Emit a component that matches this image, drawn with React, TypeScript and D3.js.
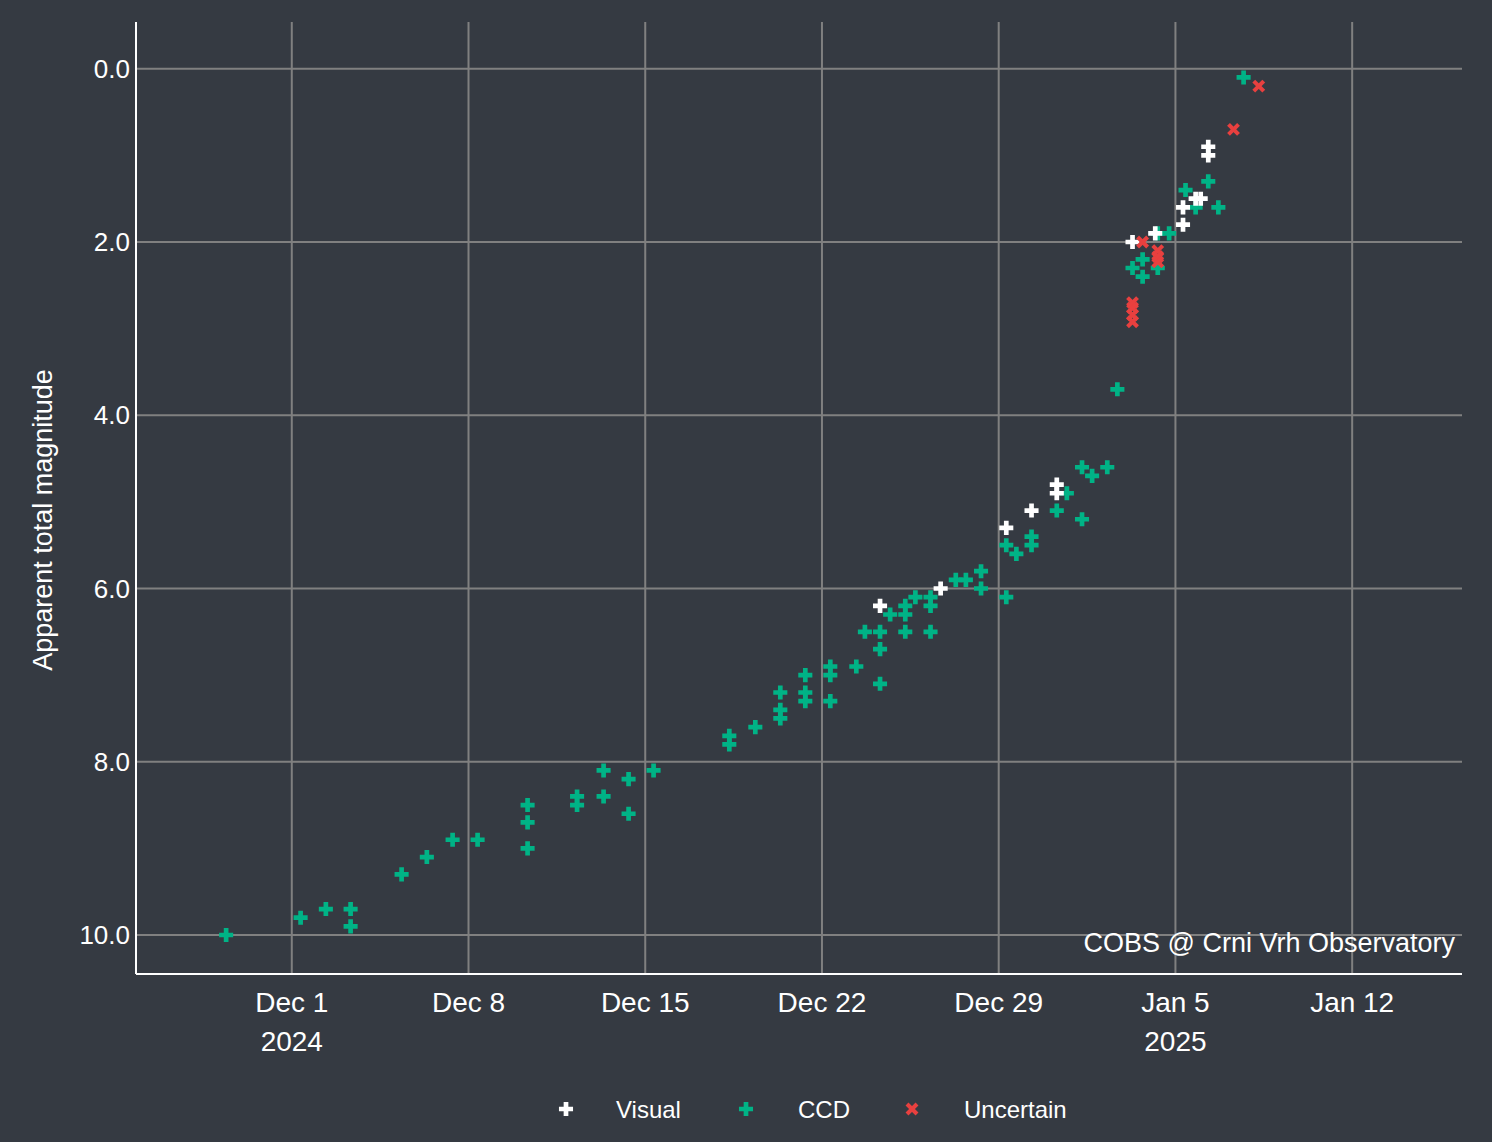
import React from 'react';
import * as d3 from 'd3';

// days after 2024-12-01, apparent magnitude
const ccd: [number, number][] = [
  [-2.6, 10.0], [0.35, 9.8], [1.35, 9.7], [2.33, 9.7], [2.33, 9.9], [4.35, 9.3], [5.35, 9.1],
  [6.37, 8.9], [7.36, 8.9], [9.34, 8.5], [9.34, 8.7], [9.34, 9.0], [11.3, 8.4], [11.3, 8.5],
  [12.35, 8.1], [12.35, 8.4], [13.34, 8.2], [13.34, 8.6], [14.33, 8.1], [17.33, 7.7], [17.33, 7.8],
  [18.36, 7.6], [19.35, 7.2], [19.35, 7.4], [19.35, 7.5], [20.34, 7.0], [20.34, 7.2], [20.34, 7.3],
  [21.33, 6.9], [21.33, 7.0], [21.33, 7.3], [22.36, 6.9], [22.7, 6.5], [23.3, 6.5], [23.3, 6.7],
  [23.3, 7.1], [23.7, 6.3], [24.3, 6.2], [24.3, 6.3], [24.3, 6.5], [24.7, 6.1], [25.3, 6.1],
  [25.3, 6.2], [25.3, 6.5], [26.3, 5.9], [26.7, 5.9], [27.3, 5.8], [27.3, 6.0], [28.3, 5.5],
  [28.3, 6.1], [28.7, 5.6], [29.3, 5.4], [29.3, 5.5], [30.3, 5.1], [30.7, 4.9], [31.3, 4.6],
  [31.3, 5.2], [31.7, 4.7], [32.3, 4.6], [32.7, 3.7], [33.3, 2.3], [33.7, 2.2], [33.7, 2.4],
  [34.3, 2.3], [34.3, 1.9], [34.75, 1.9], [35.4, 1.4], [35.8, 1.6], [36.3, 1.3], [36.7, 1.6],
  [37.7, 0.1],
];
const visual: [number, number][] = [
  [23.3, 6.2], [25.7, 6.0], [28.3, 5.3], [29.3, 5.1], [30.3, 4.8], [30.3, 4.9], [33.3, 2.0],
  [34.2, 1.9], [35.3, 1.6], [35.3, 1.8], [35.8, 1.5], [36.0, 1.5], [36.3, 0.9], [36.3, 1.0],
];
const uncertain: [number, number][] = [
  [33.7, 2.0], [34.3, 2.1], [34.3, 2.17], [34.3, 2.23], [33.3, 2.7], [33.3, 2.76], [33.3, 2.84],
  [33.3, 2.92], [37.3, 0.7], [38.3, 0.2],
];
const magTicks = [0, 2, 4, 6, 8, 10];

const W = 1492, H = 1142;
const left = 136, right = 1462, top = 22, bottom = 974;
const base = new Date(2024, 11, 1);
const day = (d: number) => new Date(base.getTime() + d * 86400000);
const font = 'Liberation Sans, Arial, sans-serif';

export default function App() {
  const x = d3.scaleTime().domain([day(-6.17), day(46.35)]).range([left, right]);
  const y = d3.scaleLinear().domain([-0.54, 10.45]).range([top, bottom]);
  const dateTicks = d3.range(0, 43, 7).map(day);
  const fmt = d3.timeFormat('%b %-d');
  const cross = d3.symbol(d3.symbolCross, 110)()!;
  const plot = (pts: [number, number][], path: string, color: string) =>
    pts.map(([d, m], i) => (
      <path key={i} d={path} fill={color} stroke="none"
        transform={`translate(${x(day(d))},${y(m)})`} />
    ));
  const xMark = (cx: number, cy: number, c: string) => (
    <g stroke={c} strokeWidth={4}>
      <line x1={cx - 5} y1={cy - 5} x2={cx + 5} y2={cy + 5} />
      <line x1={cx - 5} y1={cy + 5} x2={cx + 5} y2={cy - 5} />
    </g>
  );
  return (
    <svg width={W} height={H} style={{ position: 'absolute', left: 0, top: 0, fontFamily: font }}>
      <rect width={W} height={H} fill="#353a42" />
      {dateTicks.map((t, i) => (
        <line key={i} x1={x(t)} x2={x(t)} y1={top} y2={bottom} stroke="#808080" strokeWidth={2} />
      ))}
      {magTicks.map(m => (
        <line key={m} x1={left} x2={right} y1={y(m)} y2={y(m)} stroke="#808080" strokeWidth={2} />
      ))}
      <line x1={left} x2={left} y1={top} y2={bottom} stroke="#fff" strokeWidth={2} />
      <line x1={left} x2={right} y1={bottom} y2={bottom} stroke="#fff" strokeWidth={2} />
      {magTicks.map(m => (
        <text key={m} x={left - 6} y={y(m) + 9} textAnchor="end" fill="#fff" fontSize={26}>{m.toFixed(1)}</text>
      ))}
      {dateTicks.map((t, i) => (
        <g key={i} fill="#fff" fontSize={28} textAnchor="middle">
          <text x={x(t)} y={1012}>{fmt(t)}</text>
          {(i === 0 || i === 5) && <text x={x(t)} y={1051}>{t.getFullYear()}</text>}
        </g>
      ))}
      <text transform={`translate(52,${(top + bottom) / 2 + 22}) rotate(-90)`} textAnchor="middle"
        fill="#fff" fontSize={27}>Apparent total magnitude</text>
      {plot(ccd, cross, '#00b386')}
      {plot(visual, cross, '#ffffff')}
      {uncertain.map(([d, m], i) => <g key={i}>{xMark(x(day(d)), y(m), '#e8403f')}</g>)}
      <text x={1455} y={952} textAnchor="end" fill="#fff" fontSize={27}>COBS @ Crni Vrh Observatory</text>
      <g fontSize={24} fill="#fff">
        <path d={cross} fill="#fff" transform="translate(566,1109)" />
        <text x={616} y={1118}>Visual</text>
        <path d={cross} fill="#00b386" transform="translate(746,1109)" />
        <text x={798} y={1118}>CCD</text>
        {xMark(912, 1109, '#e8403f')}
        <text x={964} y={1118}>Uncertain</text>
      </g>
    </svg>
  );
}
